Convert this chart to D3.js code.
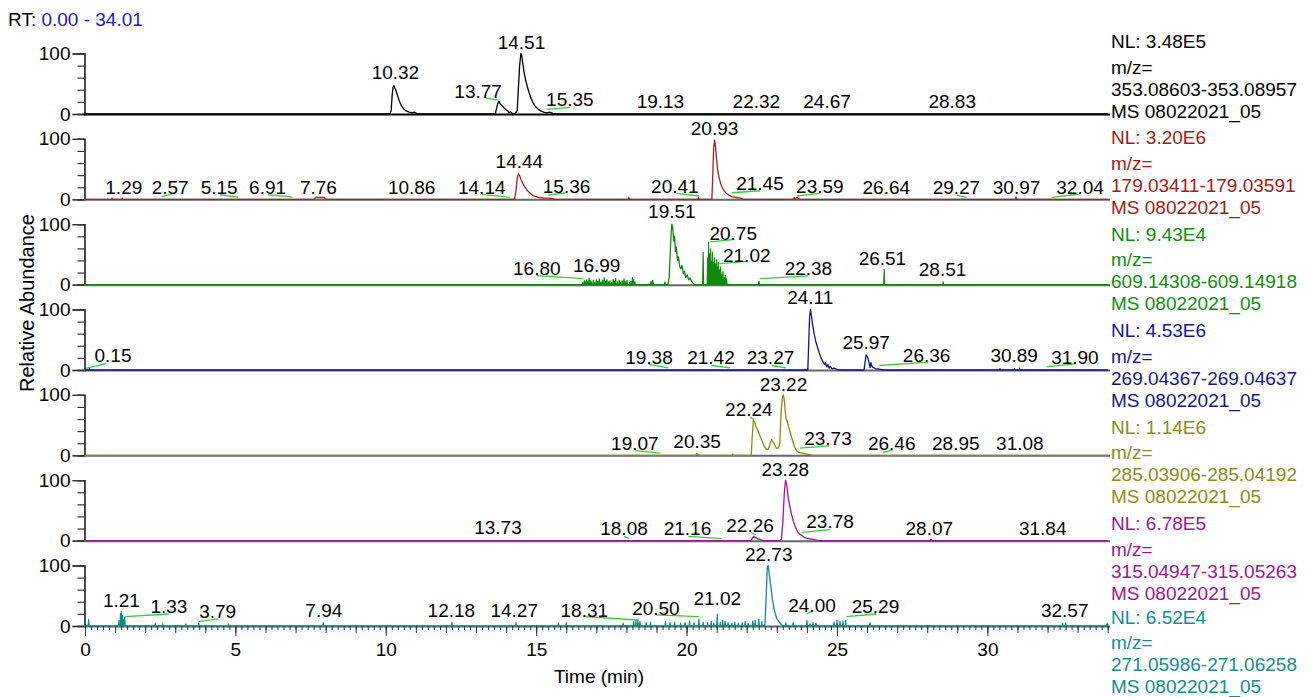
<!DOCTYPE html>
<html><head><meta charset="utf-8">
<script src="https://cdn.jsdelivr.net/npm/d3@7"></script>
<style>
body{margin:0;background:#fff;}
text{font-family:"Liberation Sans",Arial,sans-serif;font-size:19px;}
</style>
</head><body>
<svg id="chart" width="1315" height="697"></svg>
<script>
// ---------------- DATA ----------------
const rtRange = [0, 34.01];
const xTicks = [0, 5, 10, 15, 20, 25, 30];
const yTicks = [0, 20, 40, 60, 80, 100];
const yLabelTicks = [0, 100];
const nlValues = ["3.48E5", "3.20E6", "9.43E4", "4.53E6", "1.14E6", "6.78E5", "6.52E4"];
const mzRanges = ["353.08603-353.08957", "179.03411-179.03591", "609.14308-609.14918",
  "269.04367-269.04637", "285.03906-285.04192", "315.04947-315.05263", "271.05986-271.06258"];
const fileName = "MS 08022021_05";

// traces: [retention time, relative abundance]
const trace1 = [[0,0],[10.14,0],[10.18,6],[10.21,30],[10.24,44],[10.27,47],[10.3,43],[10.33,40],[10.37,34],[10.42,26],[10.47,19],[10.53,13],[10.6,8],[10.68,5],[10.78,3],[10.88,2],[10.95,3],[11.02,1],[11.1,0],
  [13.64,0],[13.68,9],[13.72,17],[13.76,21],[13.8,17],[13.86,14],[13.93,10],[14.0,7],[14.06,5],[14.1,2],[14.15,4],[14.2,1],[14.27,0],[14.32,2],[14.37,6],[14.41,45],[14.45,80],[14.49,100],[14.52,96],[14.56,82],[14.6,68],[14.65,56],[14.7,46],[14.76,36],[14.83,26],[14.9,18],[14.98,12],[15.06,8],[15.15,5],[15.25,3],[15.35,2],[15.45,3],[15.55,1],[15.68,0],[34.01,0]];
const trace2 = [[0,0],[0.88,0],[0.9,2],[0.93,0],[1.22,0],[1.24,2],[1.27,0],[7.64,0],[7.65,3],[7.97,3],[7.98,0],
  [14.28,0],[14.33,15],[14.37,35],[14.41,42],[14.45,39],[14.5,32],[14.56,26],[14.63,20],[14.7,15],[14.78,11],[14.87,7],[14.97,5],[15.1,3],[15.25,2],[15.4,2],[15.55,1],[15.62,0],
  [18.06,0],[18.08,3],[18.11,0],[20.37,0],[20.39,3],[20.42,0],
  [20.84,0],[20.87,40],[20.9,85],[20.93,98],[20.96,88],[20.99,70],[21.03,50],[21.08,36],[21.14,25],[21.21,17],[21.3,11],[21.4,7],[21.52,4],[21.65,3],[21.8,2],[21.9,0],
  [23.56,0],[23.58,3],[23.62,1],[23.67,3],[23.72,1],[23.76,0],[30.93,0],[30.95,4],[30.97,0],[34.01,0]];
const trace3 = [[0,0],[19.38,0],[19.42,12],[19.45,45],[19.48,80],[19.51,100],[19.54,94],[19.57,72],[19.6,80],[19.63,55],[19.66,62],[19.7,40],[19.73,46],[19.77,30],[19.81,26],[19.85,32],[19.89,18],[19.93,22],[19.97,12],[20.02,16],[20.07,8],[20.12,11],[20.17,5],[20.22,2],[20.27,0],[34.01,0]];
const spikes3 = [[16.55,4],[16.6,7],[16.64,5],[16.68,9],[16.72,6],[16.76,11],[16.8,7],[16.84,5],[16.9,8],[16.95,4],[17.0,9],[17.05,6],[17.1,10],[17.15,5],[17.2,8],[17.26,12],[17.3,6],[17.35,9],[17.4,5],[17.45,7],[17.5,4],[17.56,9],[17.6,6],[17.64,11],[17.7,5],[17.76,8],[17.8,4],[17.86,7],[17.92,10],[17.96,5],[18.02,8],[18.1,4],[18.15,6],[18.2,12],[18.24,9],[18.28,5],[18.82,6],[18.88,8],[19.28,5],
  [20.55,54],[20.7,45],[20.73,71],[20.76,52],[20.8,60],[20.83,40],[20.86,55],[20.9,38],[20.93,45],[20.96,35],[21.0,42],[21.03,30],[21.06,38],[21.1,25],[21.13,30],[21.17,18],[21.21,22],[21.25,12],[21.29,16],[21.33,10],[22.41,6],[26.57,26],[28.53,5]];
const trace4 = [[0,0],[0.13,0],[0.15,2],[0.17,0],[24.03,0],[24.06,45],[24.09,88],[24.12,100],[24.15,90],[24.19,75],[24.24,60],[24.29,48],[24.35,38],[24.41,28],[24.47,20],[24.53,14],[24.58,9],[24.62,12],[24.66,5],[24.7,9],[24.74,3],[24.78,6],[24.83,2],[24.9,3],[25.0,1],[25.1,0],
  [25.9,0],[25.93,12],[25.97,25],[26.01,22],[26.05,16],[26.08,8],[26.1,4],[26.13,12],[26.17,5],[26.22,4],[26.28,2],[26.35,2],[26.45,1],[26.55,0],
  [30.4,0],[30.42,2],[30.44,0],[30.88,0],[30.9,2],[30.92,0],[31.05,0],[31.07,3],[31.09,0],[34.01,0]];
const trace5 = [[0,0],[20.3,0],[20.33,3],[20.38,2],[20.42,0],[21.5,0],[21.53,2],[21.56,0],
  [22.15,0],[22.18,30],[22.22,58],[22.26,56],[22.3,48],[22.36,42],[22.42,35],[22.5,25],[22.58,15],[22.65,10],[22.72,10],[22.78,20],[22.83,26],[22.88,22],[22.92,18],[22.98,12],[23.05,12],[23.1,20],[23.14,70],[23.18,95],[23.22,100],[23.26,85],[23.3,62],[23.35,55],[23.4,45],[23.46,35],[23.52,25],[23.58,15],[23.65,8],[23.72,5],[23.8,4],[23.9,3],[24.0,2],[24.1,1],[24.2,0],[34.01,0]];
const trace6 = [[0,0],[22.15,0],[22.18,4],[22.24,7],[22.3,5],[22.36,3],[22.45,2],[22.55,0],
  [23.1,0],[23.15,2],[23.2,30],[23.25,80],[23.29,100],[23.33,92],[23.38,70],[23.43,58],[23.48,45],[23.55,32],[23.62,22],[23.7,14],[23.78,10],[23.85,8],[23.92,5],[24.0,4],[24.1,3],[24.2,2],[24.3,1],[24.4,0],[28.1,0],[28.13,2],[28.16,0],[34.01,0]];
const trace7 = [[0,0],[22.6,0],[22.64,40],[22.68,95],[22.71,100],[22.75,85],[22.8,65],[22.85,45],[22.9,30],[22.95,20],[23.0,12],[23.06,8],[23.12,4],[23.2,0],[34.01,0]];
const spikes7 = [[0.12,12],[1.13,10],[1.18,22],[1.21,25],[1.25,18],[1.29,12],[1.32,15],[2.34,5],[2.58,3],[3.35,4],[3.78,5],[4.77,4],[7.92,6],[12.2,6],[14.33,6],[15.74,6],[16.0,6],[17.89,5],[18.24,8],[18.31,10],[18.38,12],[18.45,8],[18.66,6],[18.8,7],[19.3,8],[19.45,6],[19.6,7],[19.8,5],[19.95,6],[20.1,9],[20.25,6],[20.41,12],[20.55,7],[20.7,6],[20.82,8],[20.9,5],[21.02,20],[21.12,7],[21.2,10],[21.28,8],[21.38,6],[21.5,5],[21.6,7],[21.72,5],[21.85,6],[21.95,8],[22.05,5],[22.2,9],[22.28,10],[22.4,12],[22.5,8],[23.3,6],[23.54,6],[24.0,10],[24.1,4],[24.2,6],[24.3,5],[24.9,7],[25.0,10],[25.1,8],[25.2,9],[25.29,10],[26.1,6],[32.5,5],[32.6,6],[33.97,4],[34.0,3]];

// peak labels: [text, label centre time, label baseline %, leader line [t1,%1,t2,%2] or null]
const labels1 = [["10.32",10.32,58,null],["13.77",13.07,26.4,[13.26,26.9,13.73,23]],["14.51",14.51,107,null],["15.35",16.12,13.2,[15.35,7.8,16.12,11.1]],["19.13",19.13,9.9,null],["22.32",22.32,9.9,null],["24.67",24.67,9.9,null],["28.83",28.83,9.9,null]];
const labels2 = [["1.29",1.29,8.8,null],["2.57",2.83,8.8,[2.55,4.3,2.88,8.8]],["5.15",4.46,8.8,[4.49,7.6,5.09,3.8]],["6.91",6.07,8.8,[6.09,7.6,6.9,3.8]],["7.76",7.76,8.8,null],["10.86",10.86,8.8,null],["14.14",13.19,8.8,[13.19,8.3,14.13,3.3]],["14.44",14.44,51,null],["15.36",16.01,9.9,[15.4,7.1,16.01,10.9]],["20.41",19.61,9.9,[19.67,9.9,20.42,5.5]],["20.93",20.93,106,null],["21.45",22.44,15.4,[21.5,10.9,22.44,14.2]],["23.59",24.43,10.4,[23.66,5.5,24.43,9.9]],["26.64",26.64,9,null],["29.27",28.97,9,[28.98,7.1,29.31,3.3]],["30.97",30.97,9,null],["32.04",33.08,9,[32.14,3.3,33.08,8.8]]];
const labels3 = [["16.80",15.02,16.5,[15.02,14.9,16.57,9.9]],["16.99",17.01,21.5,null],["19.51",19.51,110,null],["20.75",21.55,74.4,[20.78,70.7,21.55,74.4]],["21.02",22.0,38,[21.09,34.7,22.0,38.5]],["22.38",24.05,16.5,[22.44,9.9,24.05,14.4]],["26.51",26.51,33,null],["28.51",28.51,14.9,null]];
const labels4 = [["0.15",0.93,12.4,[0.03,2.5,0.7,10.7]],["19.38",18.75,9.1,[18.76,9.1,19.39,3.6]],["21.42",20.81,9.1,[20.83,7.4,21.44,3.6]],["23.27",22.79,9.1,[22.83,7.4,23.3,3.6]],["24.11",24.11,108.3,null],["25.97",25.97,33.9,null],["26.36",27.98,14,[26.41,7.4,28.04,12.9]],["30.89",30.89,12.9,null],["31.90",32.91,9.1,[31.97,5.3,32.91,10.2]]];
const labels5 = [["19.07",18.28,9.1,[18.28,7.9,19.12,3.6]],["20.35",20.35,12.4,null],["22.24",22.07,65.3,[22.11,63.1,22.24,58.7]],["23.22",23.22,105.5,null],["23.73",24.7,17.4,[23.77,11.9,24.74,15.7]],["26.46",26.82,9.1,[26.52,4.6,26.87,9.1]],["28.95",28.95,9.1,null],["31.08",31.08,9.1,null]];
const labels6 = [["13.73",13.73,11.6,null],["18.08",17.92,9.9,[17.92,7.1,18.09,3.8]],["21.16",20.03,9.9,[20.06,7.1,21.17,3.3]],["22.26",22.11,13.7,[22.13,13.7,22.31,9.4]],["23.28",23.28,106.3,null],["23.78",24.77,21,[23.83,13.7,24.77,18.2]],["28.07",28.07,9.9,null],["31.84",31.84,9.9,null]];
const labels7 = [["1.21",1.21,31.9,null],["1.33",2.79,21,[1.32,15.4,2.79,19.8]],["3.79",4.41,12.7,[3.78,7.1,4.41,11.6]],["7.94",7.94,15.4,null],["12.18",12.18,15.4,null],["14.27",14.27,15.4,null],["18.31",16.6,15.4,[16.62,15.4,18.38,9.9]],["20.50",18.98,18.2,[18.98,18.2,20.41,15.4]],["21.02",21.02,34.7,null],["22.73",22.73,108,null],["24.00",24.17,23.6,[24.0,19.8,24.15,23.6]],["25.29",26.28,21,[25.31,15.4,26.3,19.8]],["32.57",32.57,14.4,null]];

const traces = [trace1, trace2, trace3, trace4, trace5, trace6, trace7];
const spikes = [[], [], spikes3, [], [], [], spikes7];
const peakLabels = [labels1, labels2, labels3, labels4, labels5, labels6, labels7];

// ---------------- STYLE / LAYOUT ----------------
const traceColors = ["#000000", "#a82020", "#0e8a0e", "#14148c", "#8a8a12", "#a0149a", "#128a8a"];
const textColors  = ["#000000", "#a81818", "#128c12", "#16168e", "#8c8c16", "#9c1890", "#168c8c"];
const leaderColor = "#3cc83c";
const panelStride = 85.33, firstBase = 114, panelH = 60.5;
const textStride = 96.42, firstText = 48;
const lineOffsets = [0, 25.5, 47.5, 69.5];
const maxTextBaseline = 693;

const svg = d3.select("#chart");
const x = d3.scaleLinear().domain(rtRange).range([85, 1108]);

svg.append("text").attr("x", 8).attr("y", 26)
  .call(t => { t.append("tspan").attr("fill", "#000").text("RT: ");
               t.append("tspan").attr("fill", "#1c1cb0").text("0.00 - 34.01"); });

svg.append("text").attr("transform", "translate(34,303) rotate(-90)")
  .attr("text-anchor", "middle").attr("fill", "#000").style("font-size", "20px").text("Relative Abundance");

const line = d3.line().x(d => x(d[0]));

traces.forEach((tr, i) => {
  const base = firstBase + i * panelStride;
  const y = d3.scaleLinear().domain([0, 100]).range([base, base - panelH]);
  const g = svg.append("g");

  // y axis: minor + major ticks
  const yMinor = g.append("g").attr("transform", "translate(84.5,0)")
    .call(d3.axisLeft(y).tickValues(yTicks).tickSize(7).tickFormat(""));
  const yMajor = g.append("g").attr("transform", "translate(84.5,0)")
    .call(d3.axisLeft(y).tickValues(yLabelTicks).tickSize(12).tickPadding(2).tickFormat(d3.format("d")));
  [yMinor, yMajor].forEach(a => {
    a.selectAll("path").attr("stroke", "#333").attr("stroke-width", 1.3);
    a.selectAll("line").attr("stroke", "#333").attr("stroke-width", 1.2);
    a.selectAll("text").attr("font-size", "19px").attr("font-family", "Liberation Sans, Arial, sans-serif").attr("fill", "#000");
  });

  // baseline axis line
  g.append("line").attr("x1", 84).attr("x2", x(rtRange[1]) + 2)
    .attr("y1", base + 0.5).attr("y2", base + 0.5)
    .attr("stroke", i === 0 ? "#000" : "#666").attr("stroke-width", 2);

  // trace
  const ln = line.y(d => y(d[1]));
  g.append("path").datum(tr).attr("d", ln).attr("fill", "none")
    .attr("stroke", traceColors[i]).attr("stroke-width", 1.3).attr("stroke-linejoin", "round");
  spikes[i].forEach(s => {
    g.append("path").datum([[s[0] - 0.018, 0], [s[0], s[1]], [s[0] + 0.018, 0]])
      .attr("d", ln).attr("fill", traceColors[i]).attr("stroke", traceColors[i]).attr("stroke-width", 1.1);
  });

  // peak labels
  peakLabels[i].forEach(l => {
    if (l[3]) {
      g.append("line").attr("x1", x(l[3][0])).attr("y1", y(l[3][1]))
        .attr("x2", x(l[3][2])).attr("y2", y(l[3][3]))
        .attr("stroke", leaderColor).attr("stroke-width", 1.3);
    }
    g.append("text").attr("x", x(l[1])).attr("y", y(l[2]))
      .attr("text-anchor", "middle").attr("fill", "#000").text(l[0]);
  });

  // right-hand description (block shifted up if it would run off the page)
  let ty = firstText + i * textStride;
  const overflow = ty + lineOffsets[3] - maxTextBaseline;
  if (overflow > 0) ty -= overflow;
  const lines = ["NL: " + nlValues[i], "m/z=", mzRanges[i], fileName];
  lines.forEach((s, k) => {
    svg.append("text").attr("x", 1111).attr("y", ty + lineOffsets[k])
      .attr("fill", textColors[i]).text(s);
  });

  // bottom time axis for last panel
  if (i === traces.length - 1) {
    const minorTicks = d3.range(0, 34.01, 0.2);
    const midTicks = d3.range(0, 34.01, 1);
    const ax1 = g.append("g").attr("transform", `translate(0,${base})`)
      .call(d3.axisBottom(x).tickValues(minorTicks).tickSize(4).tickFormat(""));
    const ax2 = g.append("g").attr("transform", `translate(0,${base})`)
      .call(d3.axisBottom(x).tickValues(midTicks).tickSize(7).tickFormat(""));
    const ax3 = g.append("g").attr("transform", `translate(0,${base})`)
      .call(d3.axisBottom(x).tickValues(xTicks).tickSize(10).tickPadding(7).tickFormat(d3.format("d")));
    [ax1, ax2, ax3].forEach(a => {
      a.select(".domain").remove();
      a.selectAll("line").attr("stroke", "#333").attr("stroke-width", 1);
      a.selectAll("text").attr("font-size", "19px").attr("font-family", "Liberation Sans, Arial, sans-serif").attr("fill", "#000");
    });
    svg.append("text").attr("x", 599).attr("y", 683).attr("text-anchor", "middle")
      .attr("fill", "#000").text("Time (min)");
  }
});
</script>
</body></html>
